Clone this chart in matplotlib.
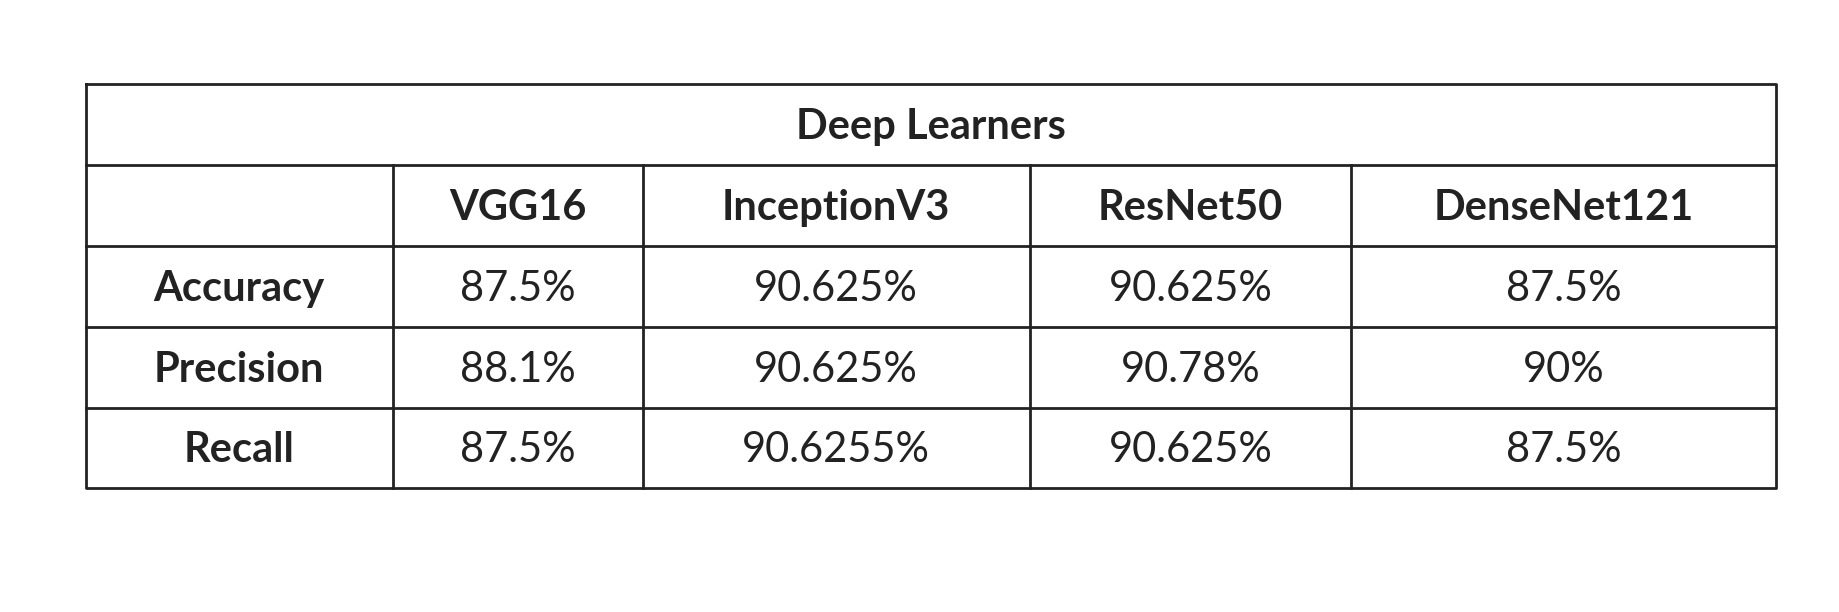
import matplotlib
matplotlib.use("Agg")
import matplotlib.pyplot as plt

title = "Deep Learners"
models = ["VGG16", "InceptionV3", "ResNet50", "DenseNet121"]
metrics = ["Accuracy", "Precision", "Recall"]
values = [
    ["87.5%", "90.625%", "90.625%", "87.5%"],
    ["88.1%", "90.625%", "90.78%", "90%"],
    ["87.5%", "90.6255%", "90.625%", "87.5%"],
]

W, H = 1568, 522
fig = plt.figure(figsize=(18.39, 6.12), dpi=100)
ax = fig.add_axes([0, 0, 1, 1])
ax.set_xlim(0, W); ax.set_ylim(H, 0); ax.axis("off")

xs = [73, 335, 548, 878, 1152, 1514]
ys = [72, 141, 210, 279, 348, 416]
lw = 2
fam = ["Lato", "DejaVu Sans"]
fs = 30
# outer border & lines
ax.plot([xs[0], xs[-1], xs[-1], xs[0], xs[0]], [ys[0], ys[0], ys[-1], ys[-1], ys[0]], color="#222", lw=lw)
for y in ys[1:-1]:
    ax.plot([xs[0], xs[-1]], [y, y], color="#222", lw=lw)
for x in xs[1:-1]:
    ax.plot([x, x], [ys[1], ys[-1]], color="#222", lw=lw)

col = "#222222"
ax.text((xs[0] + xs[-1]) / 2, (ys[0] + ys[1]) / 2 + 2, title, ha="center", va="center",
        fontsize=fs, fontweight="bold", family=fam, color=col)
for j, m in enumerate(models):
    ax.text((xs[j + 1] + xs[j + 2]) / 2, (ys[1] + ys[2]) / 2 + 2, m, ha="center", va="center",
            fontsize=fs, fontweight="bold", family=fam, color=col)
for i, met in enumerate(metrics):
    yc = (ys[i + 2] + ys[i + 3]) / 2 + 2
    ax.text((xs[0] + xs[1]) / 2, yc, met, ha="center", va="center",
            fontsize=fs, fontweight="bold", family=fam, color=col)
    for j, v in enumerate(values[i]):
        ax.text((xs[j + 1] + xs[j + 2]) / 2, yc, v, ha="center", va="center",
                fontsize=fs, family=fam, color=col)

fig.savefig("out.png", dpi=100, facecolor="white")
